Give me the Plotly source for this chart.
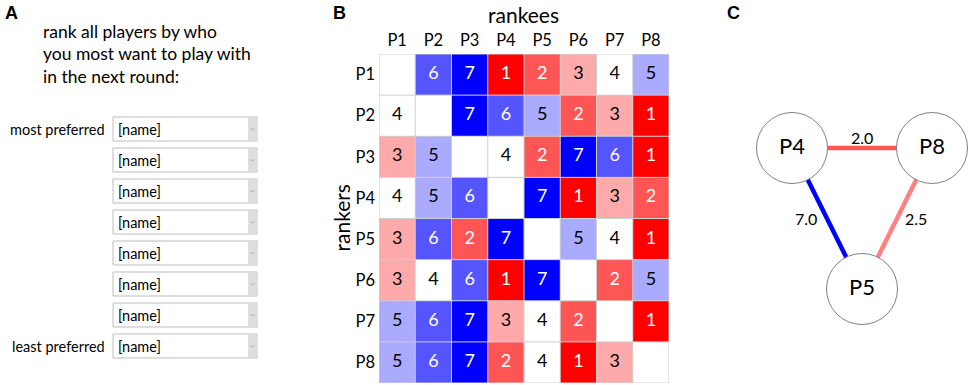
import plotly.graph_objects as go
from plotly.colors import sample_colorscale

W, H = 969, 385

# ---------------- data ----------------
players = ["P1", "P2", "P3", "P4", "P5", "P6", "P7", "P8"]
# ranks[ranker][rankee]; None on the diagonal (no self-ranking)
ranks = [
    [None, 6, 7, 1, 2, 3, 4, 5],
    [4, None, 7, 6, 5, 2, 3, 1],
    [3, 5, None, 4, 2, 7, 6, 1],
    [4, 5, 6, None, 7, 1, 3, 2],
    [3, 6, 2, 7, None, 5, 4, 1],
    [3, 4, 6, 1, 7, None, 2, 5],
    [5, 6, 7, 3, 4, 2, None, 1],
    [5, 6, 7, 2, 4, 1, 3, None],
]
prompt_lines = ["rank all players by who", "you most want to play with", "in the next round:"]
slot_labels = ["most preferred", "", "", "", "", "", "", "least preferred"]
slot_placeholder = "[name]"
network_nodes = ["P4", "P8", "P5"]
network_edges = [("P4", "P8"), ("P4", "P5"), ("P8", "P5")]
panel_letters = ["A", "B", "C"]
x_title = "rankees"
y_title = "rankers"

# ---------------- styles / layout (pixel space) ----------------
FONT = "Lato"
colorscale = [[0, "rgb(255,0,0)"], [0.5, "rgb(255,255,255)"], [1, "rgb(0,0,255)"]]
RMIN, RMAX = 1, 7
grid_px = dict(x0=379, x1=669, y0=54, y1=383)
letter_px = {"A": (3, 13), "B": (331, 13), "C": (725, 13)}
prompt_px = dict(x=41, y0=31, dy=22.5)
box_px = dict(x0=113, x1=257, y0=117, h=24, pitch=31, seg=9)
node_px = {"P4": (792, 148), "P8": (932, 148), "P5": (862, 289)}
edge_label_shift = {("P4", "P8"): (0, 11), ("P4", "P5"): (-21, 0), ("P8", "P5"): (19, 0)}
node_diam = 71

fig = go.Figure()

# ---------------- panel B: heatmap ----------------
n = len(players)
idx = list(range(n))
fig.add_trace(go.Heatmap(
    z=ranks, x=idx, y=idx, colorscale=colorscale, zmin=RMIN, zmax=RMAX,
    showscale=False, hoverongaps=False, xaxis="x", yaxis="y",
))
tx, ty, tt, tc = [], [], [], []
for i in range(n):
    for j in range(n):
        v = ranks[i][j]
        if v is None:
            continue
        tx.append(j); ty.append(i); tt.append(str(v))
        tc.append("white" if v in (1, 2, 6, 7) else "black")
fig.add_trace(go.Scatter(
    x=tx, y=ty, text=tt, mode="text", textfont=dict(family=FONT, size=18, color=tc),
    hoverinfo="skip", showlegend=False, xaxis="x", yaxis="y",
))

shapes = []
for k in range(n + 1):
    shapes.append(dict(type="line", xref="x", yref="y", x0=k - 0.5, x1=k - 0.5, y0=-0.5, y1=n - 0.5,
                       line=dict(color="#cfcfcf", width=1), layer="above"))
    shapes.append(dict(type="line", xref="x", yref="y", y0=k - 0.5, y1=k - 0.5, x0=-0.5, x1=n - 0.5,
                       line=dict(color="#cfcfcf", width=1), layer="above"))

# ---------------- panel C: network ----------------
for a, b in network_edges:
    ia, ib = players.index(a), players.index(b)
    w = (ranks[ia][ib] + ranks[ib][ia]) / 2
    col = sample_colorscale(colorscale, [(w - RMIN) / (RMAX - RMIN)])[0]
    fig.add_trace(go.Scatter(
        x=[node_px[a][0], node_px[b][0]], y=[node_px[a][1], node_px[b][1]],
        mode="lines", line=dict(color=col, width=4.5), hoverinfo="skip",
        showlegend=False, xaxis="x2", yaxis="y2",
    ))
fig.add_trace(go.Scatter(
    x=[node_px[p][0] for p in network_nodes], y=[node_px[p][1] for p in network_nodes],
    mode="markers+text", text=network_nodes, textposition="middle center",
    textfont=dict(family=FONT, size=22, color="black"),
    marker=dict(size=node_diam, color="white", line=dict(color="#808080", width=1)),
    hoverinfo="skip", showlegend=False, xaxis="x2", yaxis="y2",
))

annotations = []
for a, b in network_edges:
    ia, ib = players.index(a), players.index(b)
    w = (ranks[ia][ib] + ranks[ib][ia]) / 2
    mx = (node_px[a][0] + node_px[b][0]) / 2
    my = (node_px[a][1] + node_px[b][1]) / 2
    sx, sy = edge_label_shift[(a, b)]
    annotations.append(dict(x=mx, y=my, xref="x2", yref="y2", text=f"{w:.1f}", showarrow=False,
                            xshift=sx, yshift=sy, font=dict(family=FONT, size=16, color="black")))

# ---------------- panel A: form ----------------
for k, line in enumerate(prompt_lines):
    annotations.append(dict(x=prompt_px["x"], y=prompt_px["y0"] + k * prompt_px["dy"], xref="x2", yref="y2",
                            text=line, showarrow=False, xanchor="left", yanchor="middle",
                            font=dict(family=FONT, size=17.5, color="black")))
for k, lab in enumerate(slot_labels):
    y0 = box_px["y0"] + k * box_px["pitch"]
    y1 = y0 + box_px["h"]
    ym = (y0 + y1) / 2
    shapes.append(dict(type="rect", xref="x2", yref="y2", x0=box_px["x0"], x1=box_px["x1"], y0=y0, y1=y1,
                       line=dict(color="#bdbdbd", width=1), fillcolor="white"))
    shapes.append(dict(type="rect", xref="x2", yref="y2", x0=box_px["x1"] - box_px["seg"], x1=box_px["x1"],
                       y0=y0 + 1, y1=y1 - 1, line=dict(width=0), fillcolor="#dedede"))
    cx = box_px["x1"] - box_px["seg"] / 2
    shapes.append(dict(type="path", xref="x2", yref="y2",
                       path=f"M {cx-1.8} {ym-0.8} L {cx} {ym+1.2} L {cx+1.8} {ym-0.8}",
                       line=dict(color="#9a9a9a", width=0.8)))
    annotations.append(dict(x=box_px["x0"] + 3, y=ym, xref="x2", yref="y2", text=slot_placeholder,
                            showarrow=False, xanchor="left", yanchor="middle",
                            font=dict(family=FONT, size=14.5, color="black")))
    if lab:
        annotations.append(dict(x=box_px["x0"] - 6, y=ym, xref="x2", yref="y2", text=lab,
                                showarrow=False, xanchor="right", yanchor="middle",
                                font=dict(family=FONT, size=14.5, color="black")))

# panel letters
for L in panel_letters:
    x, y = letter_px[L]
    annotations.append(dict(x=x, y=y, xref="x2", yref="y2", text=f"<b>{L}</b>", showarrow=False,
                            xanchor="left", yanchor="middle",
                            font=dict(family="Liberation Sans", size=18, color="black")))

# axis titles for heatmap
annotations.append(dict(x=(grid_px["x0"] + grid_px["x1"]) / 2 - 1, y=14, xref="x2", yref="y2", text=x_title,
                        showarrow=False, font=dict(family=FONT, size=21, color="black")))
annotations.append(dict(x=341, y=(grid_px["y0"] + grid_px["y1"]) / 2, xref="x2", yref="y2", text=y_title,
                        showarrow=False, textangle=-90, font=dict(family=FONT, size=21, color="black")))

fig.update_layout(
    width=W, height=H, margin=dict(l=0, r=0, t=0, b=0),
    paper_bgcolor="white", plot_bgcolor="rgba(0,0,0,0)",
    showlegend=False,
    xaxis=dict(domain=[grid_px["x0"] / W, grid_px["x1"] / W], range=[-0.5, n - 0.5],
               tickvals=idx, ticktext=players, side="top", ticks="", showgrid=False,
               zeroline=False, showline=False, tickfont=dict(family=FONT, size=16.5, color="black"),
               anchor="y", fixedrange=True, ticklabelstandoff=4),
    yaxis=dict(domain=[1 - grid_px["y1"] / H, 1 - grid_px["y0"] / H], range=[n - 0.5, -0.5],
               tickvals=idx, ticktext=players, ticks="", showgrid=False, zeroline=False,
               showline=False, tickfont=dict(family=FONT, size=16.5, color="black"),
               anchor="x", fixedrange=True, ticklabelstandoff=3),
    xaxis2=dict(domain=[0, 1], range=[0, W], visible=False, anchor="y2", fixedrange=True),
    yaxis2=dict(domain=[0, 1], range=[H, 0], visible=False, anchor="x2", fixedrange=True),
    shapes=shapes, annotations=annotations,
)

fig.write_html("out.html", config={"displayModeBar": False},
               post_script="document.body.style.margin='0';")
